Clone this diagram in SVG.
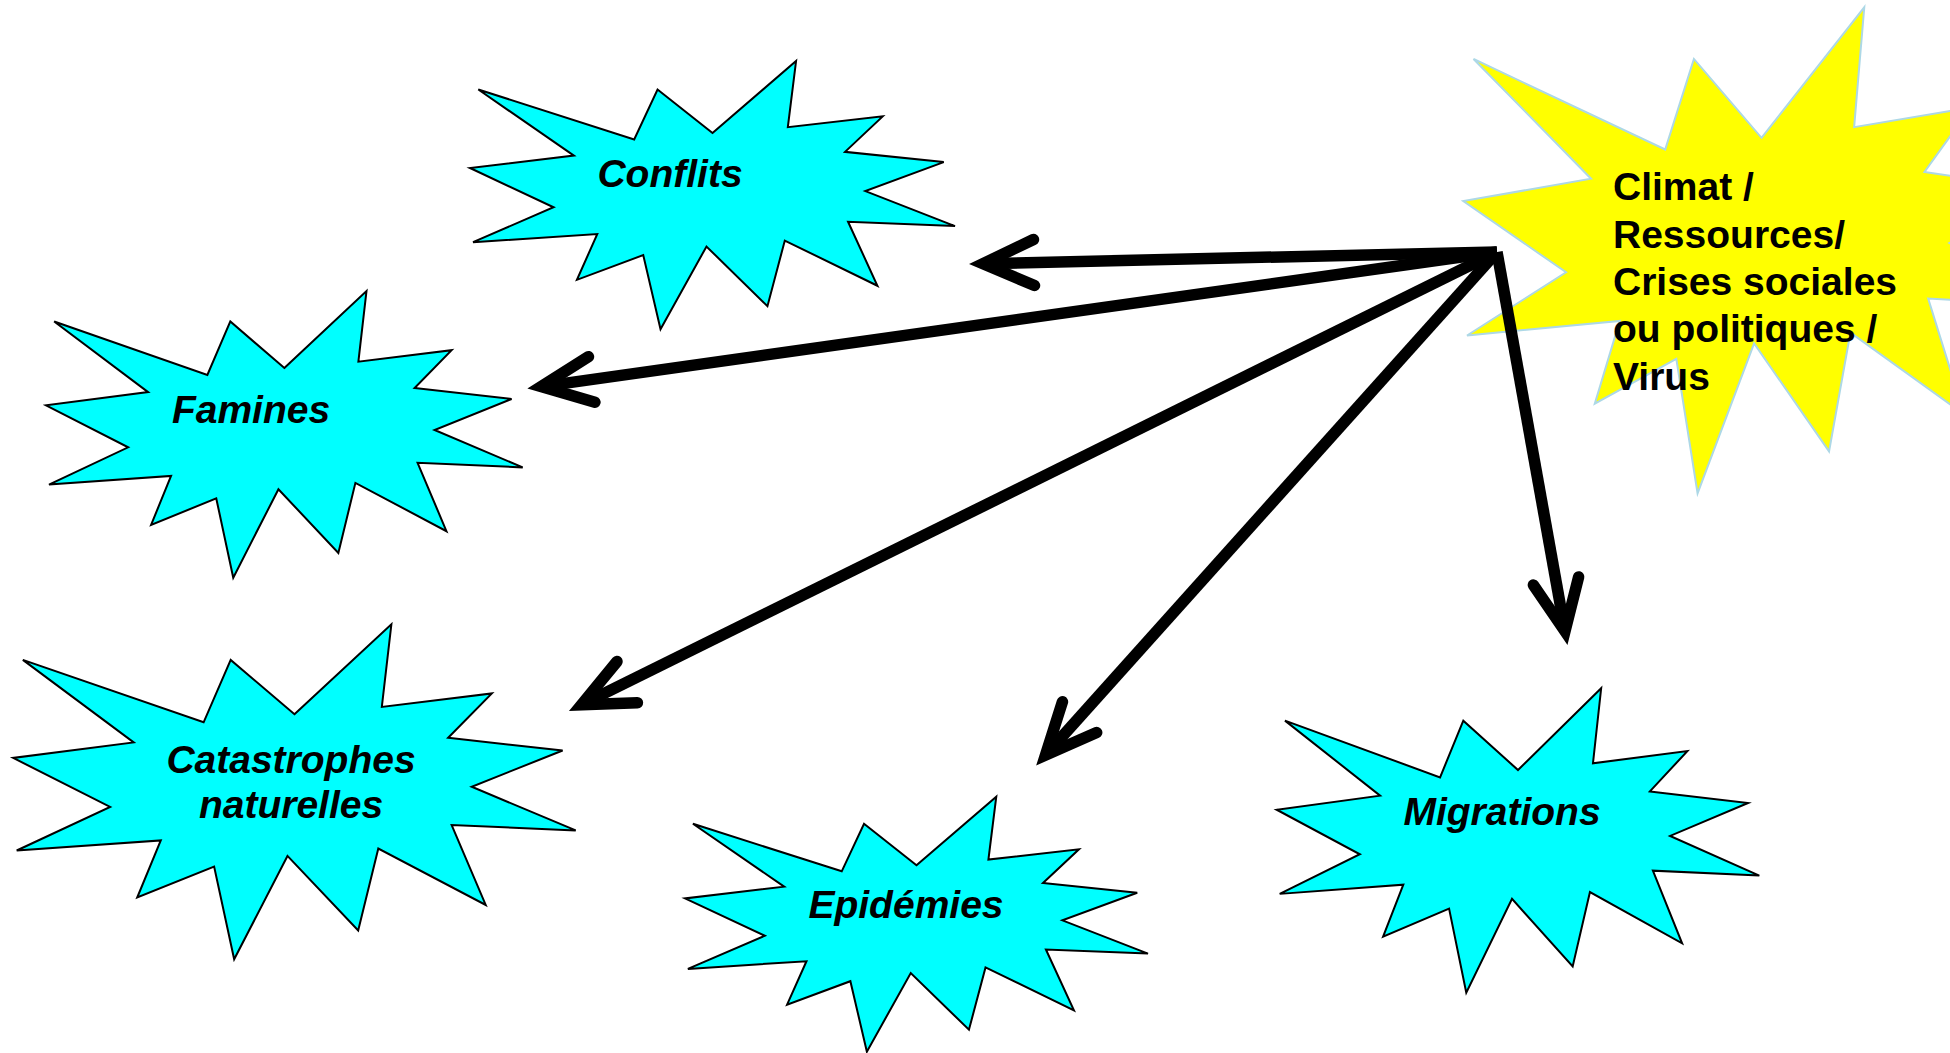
<svg xmlns="http://www.w3.org/2000/svg" width="1950" height="1053" viewBox="0 0 1950 1053">
<style>
.bg{fill:#ffffff}
.cyan{fill:#00ffff;stroke:#000000;stroke-width:2}
.yellow{fill:#ffff00;stroke:#add8e6;stroke-width:2}
.lbl{font-family:"Liberation Sans",Arial,sans-serif;font-weight:bold;font-style:italic;font-size:39px;fill:#000000;text-anchor:middle}
.lbly{font-family:"Liberation Sans",Arial,sans-serif;font-weight:bold;font-size:39px;fill:#000000}
.conn{stroke:#000000;stroke-width:11.5;fill:none;stroke-linecap:butt}
</style>
<defs>
<path id="seal" vector-effect="non-scaling-stroke" stroke-linejoin="miter" d="M10800 5800 L14522 0 L14155 5325 L18380 4457 L16702 7315 L21097 8137 L17607 10475 L21600 13290 L16837 12942 L18145 18095 L14020 14457 L13247 19737 L10532 14935 L8485 21600 L7715 15627 L4762 17617 L5667 13937 L135 14587 L3722 11775 L0 8615 L4627 7617 L370 2295 L7312 6320 L8352 2295 Z"/>
<marker id="arrow" markerUnits="userSpaceOnUse" orient="auto" refX="0" refY="0" markerWidth="10" markerHeight="10" overflow="visible">
<path d="M-51,-23 L0,0 L-51,23" fill="none" stroke="#000000" stroke-width="11.5" stroke-linecap="round" stroke-linejoin="miter"/>
</marker>
</defs>
<rect class="bg" x="0" y="0" width="1950" height="1053"/>

<g id="node-climat">
<use href="#seal" class="yellow" transform="translate(1463.3 7.3) scale(0.027611 0.0225)"/>
<text class="lbly" x="1613" y="200">Climat /</text>
<text class="lbly" x="1613" y="248">Ressources/</text>
<text class="lbly" x="1613" y="295">Crises sociales</text>
<text class="lbly" x="1613" y="342">ou politiques /</text>
<text class="lbly" x="1613" y="390">Virus</text>
</g>

<g id="node-conflits">
<use href="#seal" class="cyan" transform="translate(470 61) scale(0.022454 0.012421)"/>
<text class="lbl" x="670" y="187">Conflits</text>
</g>

<g id="node-famines">
<use href="#seal" class="cyan" transform="translate(46 291) scale(0.022069 0.013273)"/>
<text class="lbl" x="251" y="423">Famines</text>
</g>

<g id="node-catastrophes">
<use href="#seal" class="cyan" transform="translate(13.2 624.3) scale(0.026042 0.015509)"/>
<text class="lbl" x="291" y="773">Catastrophes</text>
<text class="lbl" x="291" y="818">naturelles</text>
</g>

<g id="node-epidemies">
<use href="#seal" class="cyan" transform="translate(685 796.7) scale(0.021435 0.011806)"/>
<text class="lbl" x="906" y="918">Epidémies</text>
</g>

<g id="node-migrations">
<use href="#seal" class="cyan" transform="translate(1276.7 688.3) scale(0.022343 0.014093)"/>
<text class="lbl" x="1502" y="825">Migrations</text>
</g>

<g id="connectors">
<line class="conn" x1="1497" y1="252" x2="983" y2="263.7" marker-end="url(#arrow)"/>
<line class="conn" x1="1497" y1="252" x2="541.2" y2="386.6" marker-end="url(#arrow)"/>
<line class="conn" x1="1497" y1="252" x2="581.5" y2="704.7" marker-end="url(#arrow)"/>
<line class="conn" x1="1497" y1="252" x2="1045.5" y2="755.1" marker-end="url(#arrow)"/>
<line class="conn" x1="1497" y1="252" x2="1565" y2="631.2" marker-end="url(#arrow)"/>
</g>
</svg>
